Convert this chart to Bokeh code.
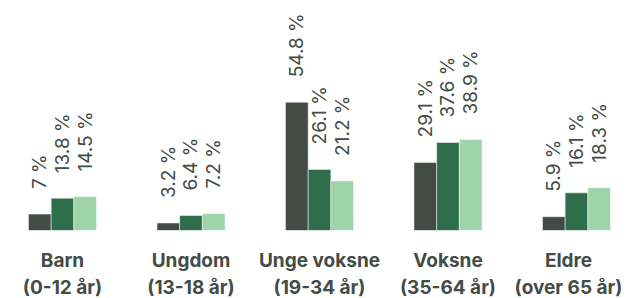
import math
from bokeh.plotting import figure
from bokeh.models import ColumnDataSource, Range1d, FixedTicker
from bokeh.core.properties import value
from bokeh.embed import file_html
from bokeh.resources import INLINE

categories = ["Barn", "Ungdom", "Unge voksne", "Voksne", "Eldre"]
subtitles = ["(0-12 år)", "(13-18 år)", "(19-34 år)", "(35-64 år)", "(over 65 år)"]
series_a = [7.0, 3.2, 54.8, 29.1, 5.9]
series_b = [13.8, 6.4, 26.1, 37.6, 16.1]
series_c = [14.5, 7.2, 21.2, 38.9, 18.3]
value_labels_a = ["7 %", "3.2 %", "54.8 %", "29.1 %", "5.9 %"]
value_labels_b = ["13.8 %", "6.4 %", "26.1 %", "37.6 %", "16.1 %"]
value_labels_c = ["14.5 %", "7.2 %", "21.2 %", "38.9 %", "18.3 %"]

colors = ["#424c45", "#2e6e4a", "#9fd3a8"]
text_color = "#434c45"
font = "Inter"

BAR_W = 0.1765
offsets = [-BAR_W, 0.0, BAR_W]

p = figure(frame_width=622, frame_height=230, output_backend="svg", toolbar_location=None,
           x_range=Range1d(-0.4825, 4.358), y_range=Range1d(0, 98.29),
           min_border=0, min_border_bottom=66)
p.outline_line_color = None
p.background_fill_color = None
p.border_fill_color = None
p.xgrid.visible = False
p.ygrid.visible = False
p.yaxis.visible = False

idx = list(range(len(categories)))
for series, labels, color, off in zip([series_a, series_b, series_c],
                                      [value_labels_a, value_labels_b, value_labels_c],
                                      colors, offsets):
    src = ColumnDataSource(dict(x=[i + off for i in idx], top=series, label=labels))
    p.vbar(x="x", top="top", bottom=0, width=BAR_W, source=src,
           fill_color=color, line_color="white", line_width=0.8, line_alpha=0.6)
    p.text(x="x", y="top", text="label", source=src, angle=math.pi / 2,
           text_align="left", text_baseline="middle", y_offset=-25,
           text_font=value(font), text_font_size="19px", text_color=text_color)

ax = p.xaxis[0]
ax.ticker = FixedTicker(ticks=idx)
ax.major_label_overrides = {i: f"{c}\n{s}" for i, c, s in zip(idx, categories, subtitles)}
ax.axis_line_color = None
ax.major_tick_line_color = None
ax.minor_tick_line_color = None
ax.major_tick_out = 0
ax.major_tick_in = 0
ax.major_label_standoff = 18
ax.major_label_text_font = font
ax.major_label_text_font_size = "19px"
ax.major_label_text_font_style = "bold"
ax.major_label_text_color = text_color
ax.major_label_text_line_height = 1.18

open("out.html", "w").write(file_html(p, INLINE))
